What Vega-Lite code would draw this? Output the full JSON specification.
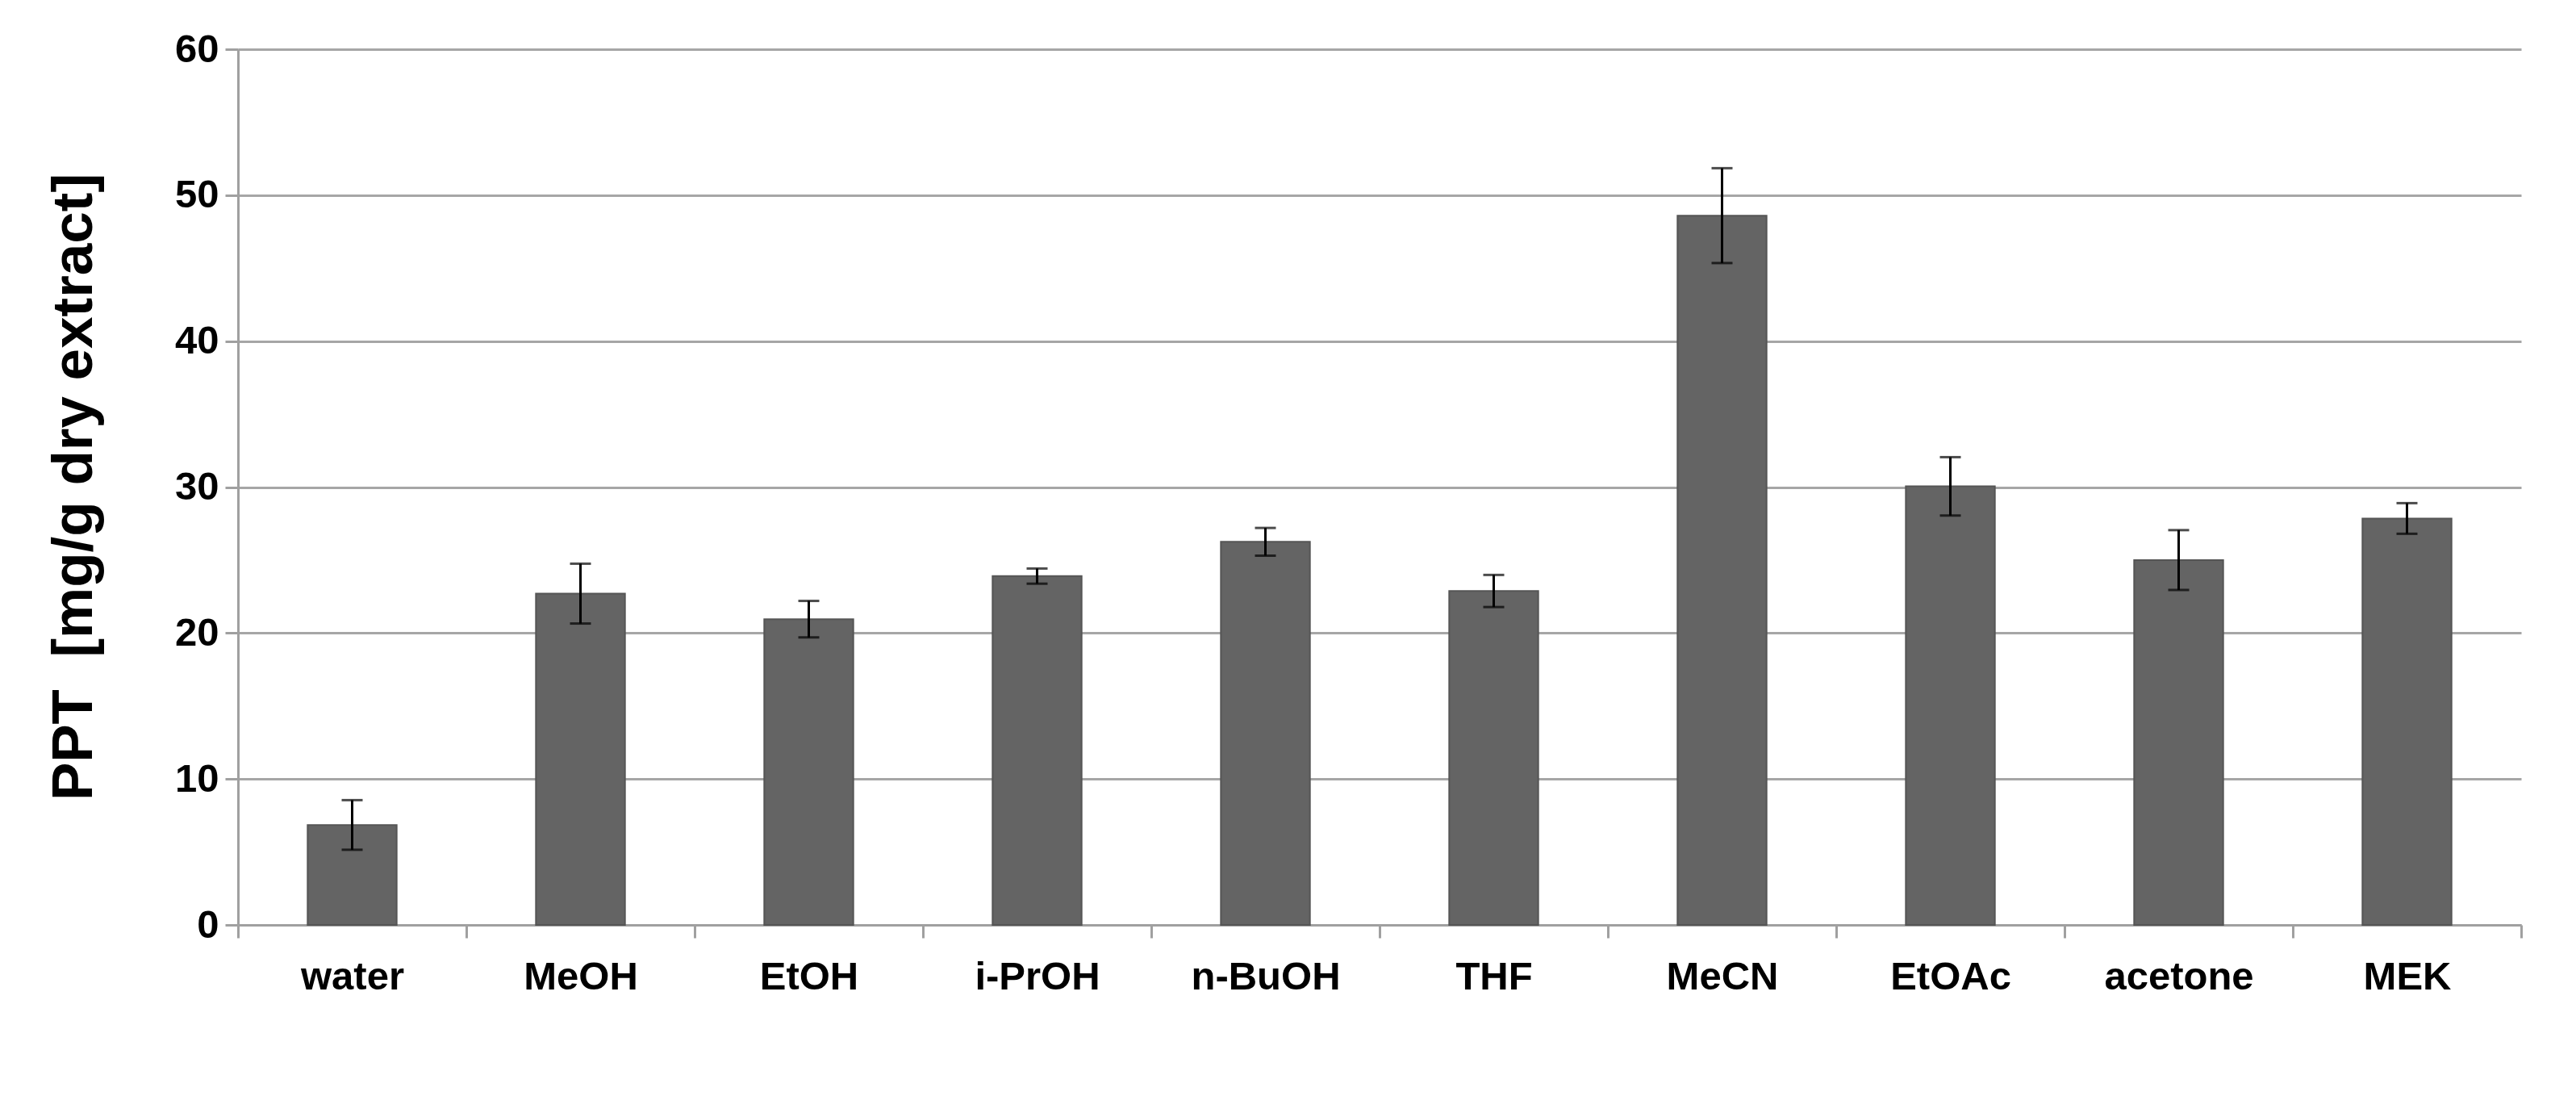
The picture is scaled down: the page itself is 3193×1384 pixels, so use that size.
{
  "$schema": "https://vega.github.io/schema/vega-lite/v6.json",
  "autosize": {"type": "none"},
  "width": 2830,
  "height": 1085,
  "padding": {"left": 295, "top": 61, "right": 68, "bottom": 238},
  "background": "white",
  "config": {"view": {"stroke": null}},
  "data": {
    "values": [
      {"solvent": "water", "value": 6.85, "err": 1.7},
      {"solvent": "MeOH", "value": 22.7, "err": 2.05},
      {"solvent": "EtOH", "value": 20.95, "err": 1.25},
      {"solvent": "i-PrOH", "value": 23.9, "err": 0.52},
      {"solvent": "n-BuOH", "value": 26.25, "err": 0.95},
      {"solvent": "THF", "value": 22.88, "err": 1.1},
      {"solvent": "MeCN", "value": 48.6, "err": 3.25},
      {"solvent": "EtOAc", "value": 30.05, "err": 2.0},
      {"solvent": "acetone", "value": 25.0, "err": 2.05},
      {"solvent": "MEK", "value": 27.85, "err": 1.05}
    ]
  },
  "encoding": {
    "x": {
      "field": "solvent",
      "type": "nominal",
      "sort": null,
      "scale": {"paddingInner": 0, "paddingOuter": 0},
      "axis": {
        "title": null,
        "labelAngle": 0,
        "labelLimit": 0,
        "labelFont": "Liberation Sans",
        "labelFontWeight": "bold",
        "labelFontSize": 49,
        "labelColor": "#000000",
        "labelPadding": 24,
        "tickBand": "extent",
        "tickSize": 16,
        "tickColor": "#a0a0a0",
        "tickWidth": 3,
        "domainColor": "#a0a0a0",
        "domainWidth": 3,
        "grid": false
      }
    },
    "y": {
      "field": "value",
      "type": "quantitative",
      "scale": {"domain": [0, 60], "nice": false},
      "axis": {
        "title": "PPT\u00a0 [mg/g dry extract]",
        "values": [0, 10, 20, 30, 40, 50, 60],
        "grid": true,
        "gridColor": "#a6a6a6",
        "gridWidth": 3,
        "domainColor": "#a0a0a0",
        "domainWidth": 3,
        "tickColor": "#a0a0a0",
        "tickWidth": 3,
        "tickSize": 16,
        "labelFont": "Liberation Sans",
        "labelFontWeight": "bold",
        "labelFontSize": 49,
        "labelColor": "#000000",
        "labelPadding": 8,
        "titleFont": "Liberation Sans",
        "titleFontWeight": "bold",
        "titleFontSize": 71,
        "titleColor": "#000000",
        "titleAngle": -90,
        "titleX": -203,
        "titleY": 542,
        "titleAlign": "center",
        "titleBaseline": "middle"
      }
    }
  },
  "layer": [
    {
      "mark": {"type": "bar", "width": {"band": 0.39}, "color": "#646464", "stroke": "#555555", "strokeWidth": 2}
    },
    {
      "mark": {
        "type": "errorbar",
        "ticks": {"size": 26, "thickness": 3, "color": "#000000"},
        "rule": {"strokeWidth": 3, "color": "#000000"}
      },
      "encoding": {
        "yError": {"field": "err"}
      }
    }
  ]
}
